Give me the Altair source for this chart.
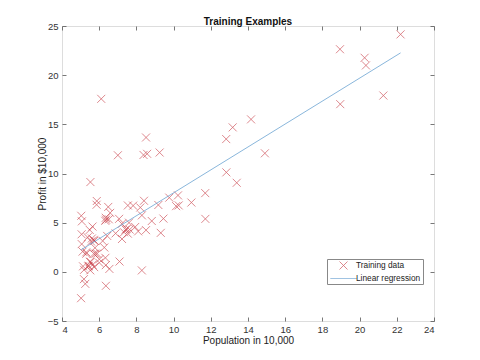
import altair as alt
import pandas as pd

# ex1 training data (population in 10,000s, profit in $10,000s)
population = [6.1101, 5.5277, 8.5186, 7.0032, 5.8598, 8.3829, 7.4764, 8.5781, 6.4862, 5.0546,
              5.7107, 14.164, 5.734, 8.4084, 5.6407, 5.3794, 6.3654, 5.1301, 6.4296, 7.0708,
              6.1891, 20.27, 5.4901, 6.3261, 5.5649, 18.945, 12.828, 10.957, 13.176, 22.203,
              5.2524, 6.5894, 9.2482, 5.8918, 8.2111, 7.9334, 8.0959, 5.6063, 12.836, 6.3534,
              5.4069, 6.8825, 11.708, 5.7737, 7.8247, 7.0931, 5.0702, 5.8014, 11.7, 5.5416,
              7.5402, 5.3077, 7.4239, 7.6031, 6.3328, 6.3589, 6.2742, 5.6397, 9.3102, 9.4536,
              8.8254, 5.1793, 21.279, 14.908, 18.959, 7.2182, 8.2951, 10.236, 5.4994, 20.341,
              10.136, 7.3345, 6.0062, 7.2259, 5.0269, 6.5479, 7.5386, 5.0365, 10.274, 5.1077,
              5.7292, 5.1884, 6.3557, 9.7687, 6.5159, 8.5172, 9.1802, 6.002, 5.5204, 5.0594,
              5.7077, 7.6366, 5.8707, 5.3054, 8.2934, 13.394, 5.4369]
profit = [17.592, 9.1302, 13.662, 11.854, 6.8233, 11.886, 4.3483, 12.0, 6.5987, 3.8166,
          3.2522, 15.505, 3.1551, 7.2258, 0.71618, 3.5129, 5.3048, 0.56077, 3.6518, 5.3893,
          3.1386, 21.767, 4.263, 5.1875, 3.0825, 22.638, 13.501, 7.0467, 14.692, 24.147,
          -1.22, 5.9966, 12.134, 1.8495, 6.5426, 4.5623, 4.1164, 3.3928, 10.117, 5.4974,
          0.55657, 3.9115, 5.3854, 2.4406, 6.7318, 1.0463, 5.1337, 1.844, 8.0043, 1.0179,
          6.7504, 1.8396, 4.2885, 4.9981, 1.4233, -1.4211, 2.4756, 4.6042, 3.9624, 5.4141,
          5.1694, -0.74279, 17.929, 12.054, 17.054, 4.8852, 5.7442, 7.7754, 1.0173, 20.992,
          6.6799, 4.0259, 1.2784, 3.3411, -2.6807, 0.29678, 3.8845, 5.7014, 6.7526, 2.0576,
          0.47953, 0.20421, 0.67861, 7.5435, 5.3436, 4.2415, 6.7981, 0.92695, 0.152, 2.8214,
          1.8451, 4.2959, 7.2029, 1.9869, 0.14454, 9.0551, 0.61705]

# fitted regression line end points
line_x = [5.0269, 22.203]
line_y = [2.2332, 22.267]

series_names = ["Training data", "Linear regression"]
x_ticks = [4, 6, 8, 10, 12, 14, 16, 18, 20, 22, 24]
y_ticks = [-5, 0, 5, 10, 15, 20, 25]

RED = "#c42c36"
BLUE = "#5696cb"
XPATH = "M-1,-1L1,1M-1,1L1,-1"
LPATH = "M-3.3,0L3.3,0"
FONT = "Liberation Sans"

pts = pd.DataFrame({"pop": population, "profit": profit, "series": series_names[0]})
ln = pd.DataFrame({"pop": line_x, "profit": line_y, "series": series_names[1]})

xscale = alt.Scale(domain=[4, 24], nice=False, zero=False)
yscale = alt.Scale(domain=[-5, 25], nice=False, zero=False)

common_axis = dict(grid=False, domain=False, tickSize=4, offset=-4, tickColor="#555",
                   tickWidth=0.8, labelFont=FONT, labelFontSize=9.5, labelColor="#333",
                   titleFont=FONT, titleFontSize=10, titleFontWeight="normal", titleColor="#222")

color_enc = alt.Color("series:N",
                      scale=alt.Scale(domain=series_names, range=[RED, BLUE]),
                      legend=alt.Legend(title=None, orient="none", legendX=265, legendY=233,
                                        strokeColor="#888", fillColor="white", padding=2,
                                        symbolSize=64, symbolStrokeWidth=0.8, symbolOffset=10,
                                        labelOffset=8, rowPadding=1, labelFont=FONT,
                                        labelFontSize=8.3, labelColor="#222", cornerRadius=0))

points = alt.Chart(pts).mark_point(filled=False, strokeWidth=0.8, size=64).encode(
    x=alt.X("pop:Q", scale=xscale,
            axis=alt.Axis(values=x_ticks, title="Population in 10,000", labelPadding=3,
                          titlePadding=2, **common_axis)),
    y=alt.Y("profit:Q", scale=yscale,
            axis=alt.Axis(values=y_ticks, title="Profit in $10,000", labelPadding=4,
                          titlePadding=0, **common_axis)),
    color=color_enc,
    shape=alt.Shape("series:N", scale=alt.Scale(domain=series_names, range=[XPATH, LPATH])),
)

line = alt.Chart(ln).mark_line(strokeWidth=0.7).encode(
    x=alt.X("pop:Q", scale=xscale,
            axis=alt.Axis(values=x_ticks, orient="top", labels=False, title=None, **common_axis)),
    y=alt.Y("profit:Q", scale=yscale,
            axis=alt.Axis(values=y_ticks, orient="right", labels=False, title=None, **common_axis)),
    color=color_enc,
)

chart = alt.layer(points, line).resolve_axis(x="independent", y="independent").properties(
    width=372, height=295,
    autosize=alt.AutoSizeParams(type="none"),
    padding={"left": 54, "top": 18, "right": 30, "bottom": 30},
    title=alt.TitleParams("Training Examples", font=FONT, fontSize=10, fontWeight="bold",
                          color="#111", offset=-6, anchor="middle"),
).configure_view(stroke="#777", strokeWidth=0.8).configure(background="white")

chart.save("out.html", embed_options={"renderer": "svg", "actions": False})
